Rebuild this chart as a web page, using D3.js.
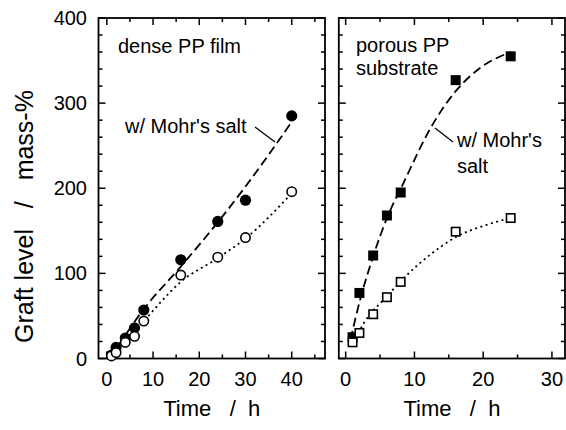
<!DOCTYPE html>
<html>
<head>
<meta charset="utf-8">
<script src="https://cdn.jsdelivr.net/npm/d3@7"></script>
<style>
  html, body { margin: 0; padding: 0; background: #fff; }
  svg { display: block; font-family: "Liberation Sans", Arial, Helvetica, sans-serif; }
  text { white-space: pre; }
</style>
</head>
<body>
<svg id="chart" width="566" height="430"></svg>
<script>
// ---- data ----
// left panel: dense PP film
const denseT = [1, 2, 4, 6, 8, 16, 24, 30, 40];
const denseMohr = [4, 13, 24, 36, 57, 116, 161, 186, 285];
const denseOpenT = [1, 2, 4, 6, 8, 16, 24, 30, 40];
const densePlain = [3, 7, 19, 26, 44, 98, 119, 142, 196];
const denseFitMohrT = [1, 8, 16, 24, 30, 40];
const denseFitMohr = [3, 58, 108, 160, 202, 278];
const denseFitPlainT = [1, 8, 16, 24, 30, 40];
const denseFitPlain = [2, 44, 90, 118, 141, 194];

// right panel: porous PP substrate
const porousT = [1, 2, 4, 6, 8, 16, 24];
const porousMohr = [25, 77, 121, 168, 195, 327, 355];
const porousPlain = [19, 30, 52, 72, 90, 149, 165];
const porousFitMohrT = [0.7, 2.1, 4, 6, 8.4, 12.3, 16.1, 19.5, 24];
const porousFitMohr = [22, 69, 120, 165, 206, 270, 315, 341, 360];
const porousFitPlainT = [1.1, 2.6, 6, 8.4, 12.3, 16.1, 20.5, 24];
const porousFitPlain = [18, 41, 73, 94, 122, 143, 157, 165];

const yTickLabels = [0, 100, 200, 300, 400];
const leftXTickLabels = [0, 10, 20, 30, 40];
const rightXTickLabels = [0, 10, 20, 30];

// ---- layout ----
const svg = d3.select("#chart");
const plotTop = 18, plotBottom = 358.5;
const y = d3.scaleLinear().domain([0, 400]).range([plotBottom, plotTop]);

const panels = [
  { x: d3.scaleLinear().domain([-1.8, 47.2]).range([98.5, 325]), xMax: 45, xLabels: leftXTickLabels, yLabels: true },
  { x: d3.scaleLinear().domain([-1, 31.9]).range([338.8, 565]), xMax: 30, xLabels: rightXTickLabels, yLabels: false }
];

const major = 7, minor = 4;

panels.forEach(p => {
  const g = svg.append("g");
  const [x0, x1] = p.x.range();
  const xt = d3.range(0, p.xMax + 0.01, 5);
  xt.forEach(v => {
    const len = (v % 10 === 0) ? major : minor;
    const px = p.x(v);
    g.append("line").attr("x1", px).attr("x2", px).attr("y1", plotBottom).attr("y2", plotBottom - len)
      .attr("stroke", "#000").attr("stroke-width", 1.5);
    g.append("line").attr("x1", px).attr("x2", px).attr("y1", plotTop).attr("y2", plotTop + len)
      .attr("stroke", "#000").attr("stroke-width", 1.5);
  });
  const yt = d3.range(0, 401, 20);
  yt.forEach(v => {
    const len = (v % 100 === 0) ? major : minor;
    const py = y(v);
    g.append("line").attr("x1", x0).attr("x2", x0 + len).attr("y1", py).attr("y2", py)
      .attr("stroke", "#000").attr("stroke-width", 1.5);
    g.append("line").attr("x1", x1).attr("x2", x1 - len).attr("y1", py).attr("y2", py)
      .attr("stroke", "#000").attr("stroke-width", 1.5);
  });
  g.append("rect").attr("x", x0).attr("y", plotTop).attr("width", x1 - x0).attr("height", plotBottom - plotTop)
    .attr("fill", "none").attr("stroke", "#000").attr("stroke-width", 1.8);
  g.selectAll(".xl").data(p.xLabels).enter().append("text")
    .attr("x", d => p.x(d)).attr("y", 386).attr("text-anchor", "middle")
    .attr("font-size", 20).text(d => d);
  if (p.yLabels) {
    g.selectAll(".yl").data(yTickLabels).enter().append("text")
      .attr("x", 87).attr("y", d => y(d) + 7).attr("text-anchor", "end")
      .attr("font-size", 20).text(d => d);
  }
  g.append("text").attr("x", (x0 + x1) / 2).attr("y", 416).attr("text-anchor", "middle")
    .attr("font-size", 22).text("Time   /  h");
});

// y title
svg.append("text").attr("transform", "translate(33,216.5) rotate(-90)")
  .attr("text-anchor", "middle").attr("font-size", 25).text("Graft level   /   mass-%");

// ---- lines ----
function drawLine(xs, tArr, gArr, dash) {
  const pts = tArr.map((t, i) => [t, gArr[i]]);
  const line = d3.line().x(d => xs(d[0])).y(d => y(d[1])).curve(d3.curveMonotoneX);
  svg.append("path").attr("d", line(pts)).attr("fill", "none").attr("stroke", "#000")
    .attr("stroke-width", 1.8).attr("stroke-dasharray", dash);
}
const xl = panels[0].x, xr = panels[1].x;
drawLine(xl, denseFitMohrT, denseFitMohr, "9,4.5");
drawLine(xl, denseFitPlainT, denseFitPlain, "2,3.5");
drawLine(xr, porousFitMohrT, porousFitMohr, "9,4.5");
drawLine(xr, porousFitPlainT, porousFitPlain, "2,3.5");

// ---- markers ----
svg.selectAll(".fc").data(denseT.map((t, i) => [t, denseMohr[i]])).enter().append("circle")
  .attr("cx", d => xl(d[0])).attr("cy", d => y(d[1])).attr("r", 5.6).attr("fill", "#000");
svg.selectAll(".oc").data(denseOpenT.map((t, i) => [t, densePlain[i]])).enter().append("circle")
  .attr("cx", d => xl(d[0])).attr("cy", d => y(d[1])).attr("r", 4.7)
  .attr("fill", "#fff").attr("stroke", "#000").attr("stroke-width", 1.6);

const fs = 10, os = 8.4;
svg.selectAll(".fs").data(porousT.map((t, i) => [t, porousMohr[i]])).enter().append("rect")
  .attr("x", d => xr(d[0]) - fs / 2).attr("y", d => y(d[1]) - fs / 2)
  .attr("width", fs).attr("height", fs).attr("fill", "#000");
svg.selectAll(".os").data(porousT.map((t, i) => [t, porousPlain[i]])).enter().append("rect")
  .attr("x", d => xr(d[0]) - os / 2).attr("y", d => y(d[1]) - os / 2)
  .attr("width", os).attr("height", os).attr("fill", "#fff").attr("stroke", "#000").attr("stroke-width", 1.6);

// ---- annotations ----
const ann = [
  { x: 118, y: 52.5, t: "dense PP film" },
  { x: 125, y: 133, t: "w/ Mohr's salt" },
  { x: 356, y: 51.5, t: "porous PP" },
  { x: 356, y: 75, t: "substrate" },
  { x: 457, y: 146.5, t: "w/ Mohr's" },
  { x: 457, y: 173, t: "salt" }
];
ann.forEach(a => svg.append("text").attr("x", a.x).attr("y", a.y).attr("font-size", 20).text(a.t));
svg.append("line").attr("x1", 255).attr("y1", 127).attr("x2", 275).attr("y2", 142)
  .attr("stroke", "#000").attr("stroke-width", 1.3);
svg.append("line").attr("x1", 435).attr("y1", 128).attr("x2", 453).attr("y2", 142)
  .attr("stroke", "#000").attr("stroke-width", 1.3);
</script>
</body>
</html>
